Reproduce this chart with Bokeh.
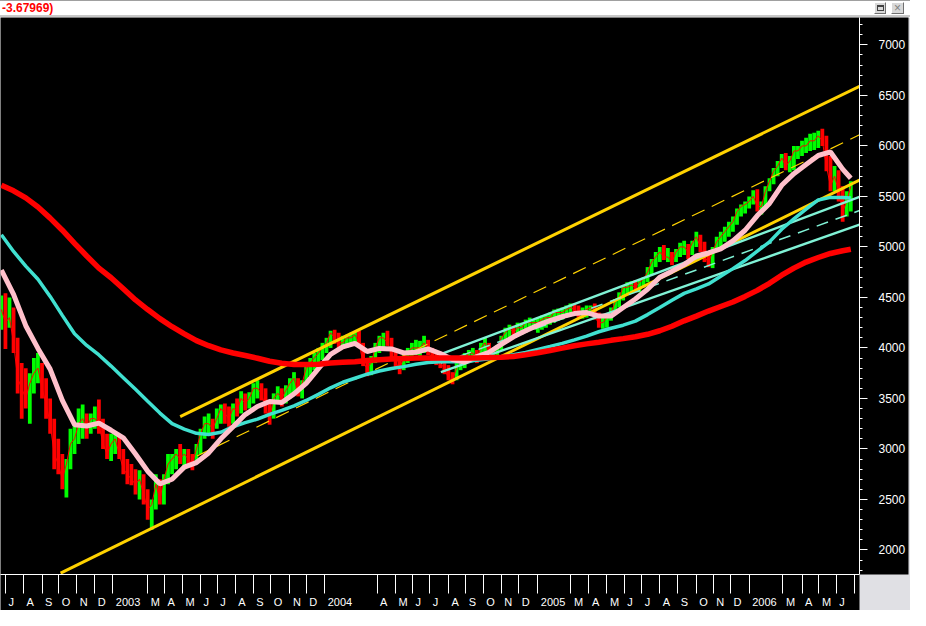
import pandas as pd
from bokeh.plotting import figure
from bokeh.models import LinearAxis, FixedTicker, Range1d, Div, ColumnDataSource
from bokeh.layouts import column
from bokeh.embed import file_html
from bokeh.resources import INLINE

# ---------------- data ----------------
title_text = "-3.67969)"

bar_start = "2002-06-24"   # weekly bars
bar_high = [4520, 4540, 4500, 4400, 4100, 3850, 3800, 3750, 3900, 3950,
            3850, 3700, 3500, 3300, 3100, 2950, 2900, 3200, 3250, 3400,
            3440, 3350, 3350, 3420, 3490, 3300, 3150, 3150, 3160, 3130,
            3000, 2900, 2850, 2800, 2790, 2750, 2600, 2500, 2750, 2700,
            2750, 2950, 2950, 3000, 3050, 3000, 3000, 2950, 3050, 3200,
            3320, 3350, 3300, 3400, 3440, 3450, 3420, 3450, 3500, 3570,
            3550, 3560, 3650, 3680, 3650, 3600, 3450, 3550, 3620, 3600,
            3630, 3700, 3760, 3700, 3680, 3850, 3900, 3950, 4000, 4050,
            4100, 4170, 4180, 4150, 4120, 4130, 4150, 4160, 4170, 4050,
            3900, 3920, 4050, 4120, 4150, 4170, 4100, 3980, 3900, 3950,
            4000, 4050, 4080, 4070, 4120, 4080, 4000, 3950, 3930, 3880,
            3830, 3760, 3850, 3900, 3950, 3980, 4000, 3980, 4050, 4100,
            4050, 4000, 4030, 4120, 4200, 4230, 4220, 4250, 4250, 4280,
            4300, 4280, 4300, 4320, 4330, 4350, 4380, 4390, 4400, 4420,
            4440, 4440, 4420, 4400, 4420, 4420, 4440, 4350, 4300, 4330,
            4400, 4480, 4550, 4620, 4650, 4660, 4670, 4680, 4700, 4800,
            4880, 4950, 5000, 5020, 4990, 4950, 4980, 5040, 5060, 5030,
            5060, 5150, 5120, 5050, 4950, 5000, 5100, 5150, 5200, 5250,
            5300, 5380, 5420, 5450, 5500, 5560, 5570, 5450, 5600, 5680,
            5780, 5850, 5920, 5930, 5900, 6000, 6000, 6050, 6080, 6120,
            6130, 6150, 6170, 6100, 5900, 5800, 5760, 5600, 5550, 5650]
bar_low = [4180, 3990, 4200, 3950, 3550, 3300, 3400, 3250, 3550, 3650,
           3500, 3300, 3150, 2800, 2750, 2600, 2520, 2800, 2950, 3050,
           3100, 3100, 3150, 3200, 3150, 3000, 2900, 2880, 2950, 2900,
           2750, 2650, 2640, 2550, 2500, 2450, 2300, 2200, 2400, 2450,
           2450, 2650, 2750, 2800, 2850, 2800, 2850, 2790, 2850, 2950,
           3100, 3150, 3100, 3200, 3250, 3250, 3220, 3250, 3320, 3350,
           3380, 3400, 3450, 3500, 3480, 3350, 3240, 3300, 3450, 3420,
           3450, 3500, 3550, 3520, 3500, 3650, 3720, 3780, 3850, 3880,
           3950, 4000, 4040, 4000, 3990, 4000, 4020, 4030, 4000, 3820,
           3720, 3730, 3850, 3950, 4000, 4020, 3900, 3800, 3740, 3780,
           3850, 3900, 3930, 3920, 3950, 3930, 3850, 3830, 3800, 3740,
           3680, 3640, 3680, 3780, 3800, 3850, 3870, 3850, 3880, 3950,
           3920, 3900, 3910, 3980, 4080, 4100, 4100, 4120, 4130, 4150,
           4180, 4180, 4150, 4180, 4200, 4230, 4250, 4270, 4280, 4300,
           4320, 4330, 4300, 4290, 4300, 4320, 4280, 4200, 4190, 4200,
           4270, 4330, 4400, 4470, 4520, 4540, 4550, 4550, 4600, 4650,
           4720, 4800, 4850, 4870, 4850, 4820, 4850, 4900, 4920, 4880,
           4920, 5000, 4950, 4850, 4800, 4790, 4950, 5000, 5050, 5100,
           5150, 5220, 5300, 5330, 5380, 5420, 5350, 5320, 5380, 5550,
           5620, 5700, 5780, 5760, 5740, 5760, 5870, 5900, 5930, 5950,
           5960, 5980, 6000, 5750, 5550, 5550, 5450, 5250, 5300, 5350]
bar_close = [4380, 4250, 4300, 4050, 3700, 3600, 3500, 3650, 3750, 3800,
             3600, 3450, 3250, 2950, 2850, 2700, 2850, 3050, 3100, 3250,
             3300, 3200, 3300, 3300, 3250, 3050, 2950, 3050, 3100, 2950,
             2800, 2750, 2700, 2650, 2700, 2550, 2400, 2450, 2650, 2500,
             2700, 2850, 2900, 2950, 2900, 2950, 2900, 2850, 3000, 3150,
             3250, 3250, 3200, 3300, 3400, 3350, 3300, 3400, 3380, 3500,
             3450, 3500, 3600, 3600, 3550, 3400, 3300, 3500, 3550, 3500,
             3580, 3650, 3700, 3550, 3650, 3800, 3850, 3900, 3950, 4000,
             4050, 4150, 4100, 4050, 4050, 4100, 4100, 4130, 4050, 3850,
             3800, 3850, 4000, 4100, 4100, 4050, 3950, 3850, 3800, 3900,
             3950, 4000, 4000, 4000, 4050, 3950, 3900, 3880, 3850, 3800,
             3700, 3680, 3800, 3850, 3900, 3950, 3950, 3900, 4000, 4050,
             3950, 3950, 4000, 4100, 4150, 4200, 4150, 4200, 4200, 4250,
             4250, 4250, 4250, 4280, 4300, 4300, 4350, 4350, 4350, 4380,
             4400, 4380, 4350, 4350, 4380, 4400, 4300, 4250, 4250, 4300,
             4350, 4450, 4500, 4600, 4600, 4620, 4600, 4650, 4680, 4750,
             4850, 4900, 4950, 4900, 4900, 4850, 4950, 5000, 5000, 4950,
             5040, 5100, 5000, 4900, 4850, 4950, 5050, 5100, 5150, 5200,
             5250, 5350, 5400, 5420, 5450, 5500, 5400, 5400, 5550, 5650,
             5750, 5800, 5880, 5800, 5850, 5950, 5950, 6000, 6000, 6050,
             6050, 6100, 6050, 5800, 5600, 5700, 5550, 5350, 5450, 5600]

# moving averages, sampled at every third weekly bar (plus the last one)
ma_index = list(range(0, 208, 3)) + [209]
pink_ma = [4770, 4530, 4220, 3995, 3790, 3480, 3240, 3227, 3255, 3185,
           3110, 2950, 2780, 2655, 2700, 2820, 2865, 2960, 3100, 3220,
           3340, 3420, 3470, 3460, 3545, 3650, 3795, 3935, 4010, 4045,
           3965, 3995, 3990, 3950, 3957, 3990, 3945, 3885, 3860, 3915,
           3957, 4035, 4110, 4170, 4225, 4270, 4310, 4340, 4350, 4315,
           4315, 4400, 4485, 4580, 4700, 4760, 4825, 4910, 4940, 4980,
           5060, 5165, 5310, 5430, 5610, 5725, 5815, 5905, 5940, 5770,
           5680]
cyan_ma = [5120, 4955, 4810, 4680, 4510, 4322, 4140, 4025, 3930, 3820,
           3705, 3590, 3472, 3355, 3250, 3197, 3155, 3143, 3165, 3220,
           3260, 3295, 3342, 3382, 3427, 3480, 3540, 3605, 3660, 3700,
           3740, 3772, 3797, 3815, 3838, 3856, 3863, 3863, 3865, 3877,
           3892, 3910, 3932, 3955, 3986, 4015, 4045, 4080, 4117, 4160,
           4195, 4225, 4265, 4330, 4400, 4472, 4540, 4585, 4633, 4710,
           4785, 4865, 4958, 5050, 5175, 5277, 5375, 5465, 5490, 5490,
           5483]
red_ma = [5610, 5555, 5485, 5395, 5285, 5165, 5035, 4910, 4790, 4695,
          4585, 4475, 4380, 4290, 4210, 4140, 4072, 4022, 3980, 3950,
          3925, 3898, 3868, 3848, 3836, 3835, 3838, 3850, 3857, 3863,
          3875, 3884, 3890, 3896, 3901, 3901, 3901, 3901, 3901, 3901,
          3904, 3908, 3915, 3933, 3952, 3975, 3998, 4022, 4040, 4057,
          4075, 4092, 4110, 4135, 4170, 4215, 4268, 4315, 4365, 4410,
          4455, 4510, 4570, 4640, 4720, 4790, 4850, 4895, 4935, 4962,
          4977]

# trend channels (start / end)
yellow_upper_dates = ["2003-04-28", "2006-07-11"]
yellow_upper_vals = [3320, 6590]
yellow_lower_dates = ["2002-10-04", "2006-07-11"]
yellow_lower_vals = [1770, 5661]
yellow_mid_dates = ["2003-05-27", "2006-07-11"]
yellow_mid_vals = [2930, 6110]
aqua_upper_dates = ["2004-07-20", "2006-07-11"]
aqua_upper_vals = [3938, 5495]
aqua_lower_dates = ["2004-07-20", "2006-07-11"]
aqua_lower_vals = [3760, 5221]
aqua_mid_dates = ["2004-07-20", "2006-07-11"]
aqua_mid_vals = [3850, 5360]

# axes
y_tick_values = [2000, 2500, 3000, 3500, 4000, 4500, 5000, 5500, 6000, 6500, 7000]
y_minor_values = [1800, 1900, 2000, 2100, 2200, 2300, 2400, 2500, 2600, 2700, 2800,
                  2900, 3000, 3100, 3200, 3300, 3400, 3500, 3600, 3700, 3800, 3900,
                  4000, 4100, 4200, 4300, 4400, 4500, 4600, 4700, 4800, 4900, 5000,
                  5100, 5200, 5300, 5400, 5500, 5600, 5700, 5800, 5900, 6000, 6100,
                  6200, 6300, 6400, 6500, 6600, 6700, 6800, 6900, 7000, 7100, 7200]
month_starts = ["2002-07-01", "2002-08-01", "2002-09-02", "2002-10-01", "2002-11-01",
                "2002-12-02", "2003-01-02", "2003-03-03", "2003-04-01", "2003-05-02",
                "2003-06-02", "2003-07-01", "2003-08-01", "2003-09-01", "2003-10-01",
                "2003-11-03", "2003-12-01", "2004-01-02", "2004-04-01", "2004-05-03",
                "2004-06-01", "2004-07-01", "2004-08-02", "2004-09-01", "2004-10-01",
                "2004-11-01", "2004-12-01", "2005-01-03", "2005-03-01", "2005-04-01",
                "2005-05-02", "2005-06-01", "2005-07-01", "2005-08-01", "2005-09-01",
                "2005-10-03", "2005-11-01", "2005-12-01", "2006-01-02", "2006-03-01",
                "2006-04-03", "2006-05-02", "2006-06-01", "2006-07-03"]
month_labels = ["J", "A", "S", "O", "N", "D", "2003", "M", "A", "M", "J", "J", "A",
                "S", "O", "N", "D", "2004", "A", "M", "J", "J", "A", "S", "O", "N",
                "D", "2005", "M", "A", "M", "J", "J", "A", "S", "O", "N", "D", "2006",
                "M", "A", "M", "J", ""]

# ---------------- figure ----------------
def ms(d):
    return int(pd.Timestamp(d).value // 10**6)

X0, X1 = ms("2002-06-22 12:00"), ms("2006-07-11")
FRAME_W = 859
ms_per_px = (X1 - X0) / FRAME_W

bar_dates = pd.date_range(bar_start, periods=len(bar_close), freq="7D")
bar_colors = ["#00ff00" if i == 0 or bar_close[i] >= bar_close[i - 1] else "#ff0000"
              for i in range(len(bar_close))]
bars = ColumnDataSource(dict(x=bar_dates, hi=bar_high, lo=bar_low, c=bar_close, col=bar_colors))
ma_dates = bar_dates[ma_index]

p = figure(width=910, height=593, x_range=Range1d(X0, X1), y_range=Range1d(1757, 7271),
           x_axis_type=None, y_axis_type=None, output_backend="svg", toolbar_location=None,
           min_border_left=0, min_border_top=0, min_border_right=51, min_border_bottom=19,
           background_fill_color="black", border_fill_color="#e0e0e4", outline_line_color=None)

p.vbar(x="x", top="hi", bottom="lo", width=6.5 * 86400000, fill_color="col", line_color=None, source=bars)
p.line("x", "c", source=bars, line_color="#ff0000", line_width=1)

gold = "#ffd200"
p.line(pd.to_datetime(yellow_upper_dates), yellow_upper_vals, line_color=gold, line_width=3)
p.line(pd.to_datetime(yellow_lower_dates), yellow_lower_vals, line_color=gold, line_width=3)
p.line(pd.to_datetime(yellow_mid_dates), yellow_mid_vals, line_color=gold, line_width=1.2, line_dash="14 8")
aqua = "#80f2d6"
p.line(pd.to_datetime(aqua_upper_dates), aqua_upper_vals, line_color=aqua, line_width=2.5)
p.line(pd.to_datetime(aqua_lower_dates), aqua_lower_vals, line_color=aqua, line_width=2.5)
p.line(pd.to_datetime(aqua_mid_dates), aqua_mid_vals, line_color=aqua, line_width=1.5, line_dash="12 8")

p.line(ma_dates, cyan_ma, line_color="#40e0d0", line_width=3.5)
p.line(ma_dates, pink_ma, line_color="#ffc0cb", line_width=5)
p.line(ma_dates, red_ma, line_color="#ff0000", line_width=5.5)

yax = LinearAxis(ticker=FixedTicker(ticks=y_tick_values, minor_ticks=y_minor_values),
                 axis_line_color="white", major_tick_line_color="white", minor_tick_line_color="white",
                 major_tick_in=0, major_tick_out=8, minor_tick_in=0, minor_tick_out=3,
                 major_label_text_color="white", major_label_text_font="Liberation Sans",
                 major_label_text_font_size="12px", major_label_standoff=11,
                 background_fill_color="black")
p.add_layout(yax, "right")

char_w = {"J": 5.5, "A": 7.3, "S": 7.3, "O": 8.6, "N": 7.9, "D": 7.9, "M": 9.2}
sep_pos = [ms(d) for d in month_starts]
label_pos, overrides = [], {}
for d, lab in zip(month_starts, month_labels):
    if not lab:
        continue
    w = sum(char_w.get(ch, 6.1) for ch in lab)
    pos = int(ms(d) + (3 + w / 2) * ms_per_px)
    label_pos.append(pos)
    overrides[pos] = lab

xax = LinearAxis(ticker=FixedTicker(ticks=label_pos, minor_ticks=sep_pos),
                 major_label_overrides=overrides,
                 axis_line_color="white", major_tick_line_color=None, major_tick_in=0, major_tick_out=0,
                 minor_tick_line_color="white", minor_tick_in=0, minor_tick_out=19,
                 major_label_text_color="white", major_label_text_font="Liberation Sans",
                 major_label_text_font_size="11px", major_label_standoff=2,
                 background_fill_color="black")
p.add_layout(xax, "below")

title_html = (
    '<div style="position:relative;width:910px;height:17px;box-sizing:border-box;background:#ffffff;'
    'border-top:1px solid #a0a0a0;border-bottom:2px solid #c8c8c8;font-family:\'Liberation Sans\',sans-serif;">'
    '<span style="position:absolute;left:2px;top:0px;font-size:12px;font-weight:bold;color:#ff0000;'
    'line-height:14px;">' + title_text + '</span>'
    '<span style="position:absolute;left:874px;top:1px;width:12px;height:12px;box-sizing:border-box;'
    'border:1px solid;border-color:#ffffff #707070 #707070 #ffffff;background:#d8d8d8;">'
    '<span style="position:absolute;left:2px;top:2px;width:7px;height:6px;box-sizing:border-box;'
    'border:1px solid #404040;border-top:2px solid #404040;"></span></span>'
    '<span style="position:absolute;left:891px;top:1px;width:13px;height:12px;box-sizing:border-box;'
    'border:1px solid;border-color:#ffffff #707070 #707070 #ffffff;background:#d8d8d8;color:#808080;'
    'font-size:12px;line-height:10px;text-align:center;">&#215;</span>'
    '</div>'
)
title_div = Div(text=title_html, width=910, height=17, margin=0)

layout = column(title_div, p, spacing=0)
open("out.html", "w").write(file_html(layout, INLINE))
